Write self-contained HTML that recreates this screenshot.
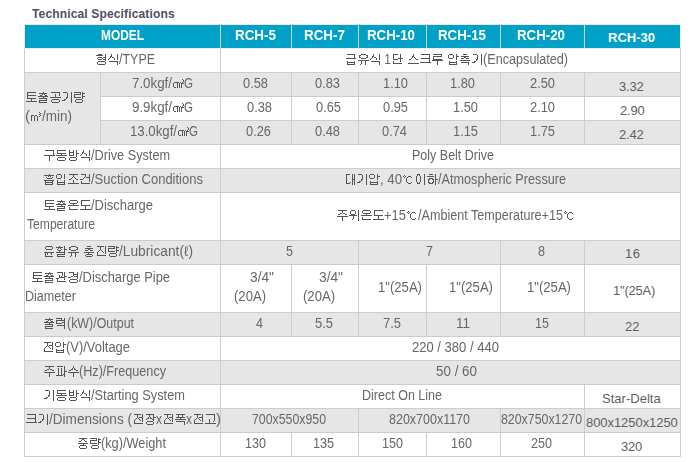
<!DOCTYPE html>
<html lang="en"><head><meta charset="utf-8"><title>Technical Specifications</title>
<style>
html,body{margin:0;padding:0;background:#fff}
body{width:690px;height:462px;overflow:hidden;position:relative;font-family:"Liberation Sans",sans-serif;font-size:14px;color:#555}
h1{position:absolute;left:32px;top:7px;letter-spacing:.15px;margin:0;font-size:12px;line-height:14px;font-weight:bold;color:#534e60;white-space:nowrap}
table{position:absolute;left:24px;top:24px;width:657px;table-layout:fixed;border-collapse:separate;border-spacing:0;border-bottom:1px solid #ccc}
td,th{box-sizing:border-box;border-left:1px solid #ccc;border-top:1px solid #ccc;padding:0;vertical-align:top;text-align:left;white-space:nowrap;line-height:15px;font-weight:normal;overflow:visible}
tr.hd th{background:#00a1c6;color:#fff;font-weight:bold;border-top-color:#f3e6e2;border-left-color:#ccd0d1}
tr.hd th:first-child{border-left-color:#f3e6e2}
td:last-child,th:last-child{border-right:1px solid #ccc}
tr.hd th:last-child{border-right-color:#f3e6e2}
tr.hd+tr td{border-top-color:#f4ecea}
tr.g td,td.g{background:#e6e6e6}
tr.w td{background:#fff}
.x{font-size:13px}
td.x{color:#5f5f5f}
tr.hd th.x{font-size:13px}
svg.k{display:inline-block;vertical-align:-2px;fill:currentColor;shape-rendering:crispEdges;overflow:visible}
.l{display:inline-block;color:#676767;filter:grayscale(1);transform-origin:0 50%;text-indent:0;white-space:pre}
tr.hd .l{color:#fff}
</style></head>
<body>
<svg width="0" height="0" style="position:absolute" aria-hidden="true"><defs><symbol id="u2103" viewBox="0 0 12 12"><path d="M2 1h1v1h-1zM1 2h1v1h-1zM3 2h1v1h-1zM6 2h3v1h-3zM2 3h1v1h-1zM5 3h1v1h-1zM9 3h1v1h-1zM4 4h1v1h-1zM4 5h1v1h-1zM4 6h1v1h-1zM4 7h1v1h-1zM5 8h1v1h-1zM9 8h1v1h-1zM6 9h3v1h-3z"/></symbol><symbol id="u33a0" viewBox="0 0 12 12"><path d="M10 1h1v1h-1zM11 2h1v1h-1zM11 3h1v1h-1zM2 4h5v1h-5zM8 4h1v1h-1zM10 4h1v1h-1zM1 5h1v1h-1zM5 5h1v1h-1zM7 5h1v1h-1zM9 5h3v1h-3zM1 6h1v1h-1zM5 6h1v1h-1zM7 6h1v1h-1zM9 6h1v1h-1zM1 7h1v1h-1zM5 7h1v1h-1zM7 7h1v1h-1zM9 7h1v1h-1zM1 8h1v1h-1zM5 8h1v1h-1zM7 8h1v1h-1zM9 8h1v1h-1zM2 9h2v1h-2zM5 9h1v1h-1zM7 9h1v1h-1zM9 9h1v1h-1z"/></symbol><symbol id="u33a5" viewBox="0 0 12 12"><path d="M9 1h1v1h-1zM10 2h1v1h-1zM9 3h1v1h-1zM1 4h3v1h-3zM5 4h2v1h-2zM10 4h1v1h-1zM1 5h1v1h-1zM4 5h1v1h-1zM7 5h1v1h-1zM9 5h1v1h-1zM1 6h1v1h-1zM4 6h1v1h-1zM7 6h1v1h-1zM1 7h1v1h-1zM4 7h1v1h-1zM7 7h1v1h-1zM1 8h1v1h-1zM4 8h1v1h-1zM7 8h1v1h-1zM1 9h1v1h-1zM4 9h1v1h-1zM7 9h1v1h-1z"/></symbol><symbol id="uac74" viewBox="0 0 12 12"><path d="M2 0h5v1h-5zM10 0h1v1h-1zM6 1h1v1h-1zM10 1h1v1h-1zM6 2h1v1h-1zM10 2h1v1h-1zM5 3h1v1h-1zM7 3h4v1h-4zM4 4h1v1h-1zM10 4h1v1h-1zM1 5h3v1h-3zM10 5h1v1h-1zM10 6h1v1h-1zM2 7h1v1h-1zM10 7h1v1h-1zM2 8h1v1h-1zM2 9h9v1h-9z"/></symbol><symbol id="uacbd" viewBox="0 0 12 12"><path d="M2 0h5v1h-5zM10 0h1v1h-1zM6 1h1v1h-1zM10 1h1v1h-1zM6 2h5v1h-5zM6 3h1v1h-1zM10 3h1v1h-1zM4 4h2v1h-2zM7 4h4v1h-4zM1 5h3v1h-3zM10 5h1v1h-1zM10 6h1v1h-1zM3 7h7v1h-7zM2 8h1v1h-1zM10 8h1v1h-1zM2 9h1v1h-1zM10 9h1v1h-1zM3 10h7v1h-7z"/></symbol><symbol id="uace0" viewBox="0 0 12 12"><path d="M2 0h9v1h-9zM10 1h1v1h-1zM10 2h1v1h-1zM10 3h1v1h-1zM10 4h1v1h-1zM5 5h1v1h-1zM10 5h1v1h-1zM5 6h1v1h-1zM10 6h1v1h-1zM5 7h1v1h-1zM9 7h1v1h-1zM5 8h1v1h-1zM1 9h11v1h-11z"/></symbol><symbol id="uacf5" viewBox="0 0 12 12"><path d="M2 0h9v1h-9zM10 1h1v1h-1zM6 2h1v1h-1zM10 2h1v1h-1zM6 3h1v1h-1zM10 3h1v1h-1zM6 4h1v1h-1zM1 5h11v1h-11zM3 7h7v1h-7zM2 8h1v1h-1zM10 8h1v1h-1zM2 9h1v1h-1zM10 9h1v1h-1zM3 10h7v1h-7z"/></symbol><symbol id="uad00" viewBox="0 0 12 12"><path d="M2 0h6v1h-6zM9 0h1v1h-1zM7 1h1v1h-1zM9 1h1v1h-1zM7 2h1v1h-1zM9 2h1v1h-1zM4 3h1v1h-1zM7 3h1v1h-1zM9 3h1v1h-1zM4 4h1v1h-1zM6 4h1v1h-1zM9 4h3v1h-3zM4 5h6v1h-6zM1 6h3v1h-3zM9 6h1v1h-1zM2 7h1v1h-1zM9 7h1v1h-1zM2 8h1v1h-1zM2 9h9v1h-9z"/></symbol><symbol id="uad6c" viewBox="0 0 12 12"><path d="M2 0h9v1h-9zM10 1h1v1h-1zM10 2h1v1h-1zM10 3h1v1h-1zM10 4h1v1h-1zM1 5h11v1h-11zM6 6h1v1h-1zM6 7h1v1h-1zM6 8h1v1h-1zM6 9h1v1h-1zM6 10h1v1h-1z"/></symbol><symbol id="uae09" viewBox="0 0 12 12"><path d="M2 0h8v1h-8zM9 1h1v1h-1zM9 2h1v1h-1zM9 3h1v1h-1zM1 4h10v1h-10zM2 7h1v1h-1zM9 7h1v1h-1zM2 8h8v1h-8zM2 9h1v1h-1zM9 9h1v1h-1zM2 10h8v1h-8z"/></symbol><symbol id="uae30" viewBox="0 0 12 12"><path d="M2 0h4v1h-4zM10 0h1v1h-1zM6 1h1v1h-1zM10 1h1v1h-1zM6 2h1v1h-1zM10 2h1v1h-1zM6 3h1v1h-1zM10 3h1v1h-1zM6 4h1v1h-1zM10 4h1v1h-1zM5 5h2v1h-2zM10 5h1v1h-1zM5 6h1v1h-1zM10 6h1v1h-1zM3 7h2v1h-2zM10 7h1v1h-1zM1 8h3v1h-3zM10 8h1v1h-1zM10 9h1v1h-1zM10 10h1v1h-1z"/></symbol><symbol id="ub2e8" viewBox="0 0 12 12"><path d="M2 0h5v1h-5zM9 0h1v1h-1zM2 1h1v1h-1zM9 1h1v1h-1zM2 2h1v1h-1zM9 2h1v1h-1zM2 3h1v1h-1zM9 3h1v1h-1zM2 4h1v1h-1zM7 4h5v1h-5zM2 5h5v1h-5zM9 5h1v1h-1zM9 6h1v1h-1zM2 7h1v1h-1zM9 7h1v1h-1zM2 8h1v1h-1zM2 9h9v1h-9z"/></symbol><symbol id="ub300" viewBox="0 0 12 12"><path d="M2 0h4v1h-4zM8 0h1v1h-1zM10 0h1v1h-1zM2 1h1v1h-1zM8 1h1v1h-1zM10 1h1v1h-1zM2 2h1v1h-1zM8 2h1v1h-1zM10 2h1v1h-1zM2 3h1v1h-1zM8 3h1v1h-1zM10 3h1v1h-1zM2 4h1v1h-1zM8 4h1v1h-1zM10 4h1v1h-1zM2 5h1v1h-1zM8 5h3v1h-3zM2 6h1v1h-1zM8 6h1v1h-1zM10 6h1v1h-1zM2 7h1v1h-1zM8 7h1v1h-1zM10 7h1v1h-1zM2 8h1v1h-1zM6 8h1v1h-1zM8 8h1v1h-1zM10 8h1v1h-1zM2 9h4v1h-4zM8 9h1v1h-1zM10 9h1v1h-1zM8 10h1v1h-1zM10 10h1v1h-1z"/></symbol><symbol id="ub3c4" viewBox="0 0 12 12"><path d="M2 0h9v1h-9zM2 1h1v1h-1zM2 2h1v1h-1zM2 3h1v1h-1zM2 4h1v1h-1zM2 5h9v1h-9zM6 6h1v1h-1zM6 7h1v1h-1zM6 8h1v1h-1zM1 9h11v1h-11z"/></symbol><symbol id="ub3d9" viewBox="0 0 12 12"><path d="M2 0h9v1h-9zM2 1h1v1h-1zM2 2h1v1h-1zM2 3h9v1h-9zM6 4h1v1h-1zM1 5h11v1h-11zM3 7h7v1h-7zM2 8h1v1h-1zM10 8h1v1h-1zM2 9h1v1h-1zM10 9h1v1h-1zM3 10h7v1h-7z"/></symbol><symbol id="ub7c9" viewBox="0 0 12 12"><path d="M1 0h7v1h-7zM9 0h1v1h-1zM7 1h1v1h-1zM9 1h3v1h-3zM1 2h7v1h-7zM9 2h1v1h-1zM1 3h1v1h-1zM9 3h1v1h-1zM1 4h1v1h-1zM9 4h3v1h-3zM1 5h7v1h-7zM9 5h1v1h-1zM9 6h1v1h-1zM3 7h6v1h-6zM2 8h1v1h-1zM9 8h1v1h-1zM2 9h1v1h-1zM9 9h1v1h-1zM3 10h6v1h-6z"/></symbol><symbol id="ub825" viewBox="0 0 12 12"><path d="M1 0h6v1h-6zM9 0h1v1h-1zM6 1h1v1h-1zM9 1h1v1h-1zM1 2h9v1h-9zM1 3h1v1h-1zM9 3h1v1h-1zM1 4h1v1h-1zM7 4h3v1h-3zM1 5h6v1h-6zM9 5h1v1h-1zM9 6h1v1h-1zM2 7h8v1h-8zM9 8h1v1h-1zM9 9h1v1h-1zM9 10h1v1h-1z"/></symbol><symbol id="ub8e8" viewBox="0 0 12 12"><path d="M2 0h9v1h-9zM10 1h1v1h-1zM2 2h9v1h-9zM2 3h1v1h-1zM2 4h1v1h-1zM2 5h9v1h-9zM1 6h11v1h-11zM6 7h1v1h-1zM6 8h1v1h-1zM6 9h1v1h-1zM6 10h1v1h-1z"/></symbol><symbol id="ubc29" viewBox="0 0 12 12"><path d="M2 0h1v1h-1zM6 0h1v1h-1zM9 0h1v1h-1zM2 1h1v1h-1zM6 1h1v1h-1zM9 1h1v1h-1zM2 2h5v1h-5zM9 2h1v1h-1zM2 3h1v1h-1zM6 3h1v1h-1zM9 3h3v1h-3zM2 4h1v1h-1zM6 4h1v1h-1zM9 4h1v1h-1zM2 5h5v1h-5zM9 5h1v1h-1zM9 6h1v1h-1zM3 7h6v1h-6zM2 8h1v1h-1zM9 8h1v1h-1zM2 9h1v1h-1zM9 9h1v1h-1zM3 10h6v1h-6z"/></symbol><symbol id="uc218" viewBox="0 0 12 12"><path d="M6 0h1v1h-1zM6 1h1v1h-1zM5 2h1v1h-1zM7 2h1v1h-1zM4 3h2v1h-2zM7 3h2v1h-2zM2 4h2v1h-2zM9 4h2v1h-2zM1 6h11v1h-11zM6 7h1v1h-1zM6 8h1v1h-1zM6 9h1v1h-1zM6 10h1v1h-1z"/></symbol><symbol id="uc2a4" viewBox="0 0 12 12"><path d="M6 0h1v1h-1zM6 1h1v1h-1zM5 2h2v1h-2zM5 3h1v1h-1zM7 3h1v1h-1zM4 4h1v1h-1zM8 4h1v1h-1zM2 5h2v1h-2zM9 5h2v1h-2zM1 9h11v1h-11z"/></symbol><symbol id="uc2dd" viewBox="0 0 12 12"><path d="M4 0h1v1h-1zM10 0h1v1h-1zM4 1h1v1h-1zM10 1h1v1h-1zM3 2h2v1h-2zM10 2h1v1h-1zM3 3h1v1h-1zM5 3h2v1h-2zM10 3h1v1h-1zM2 4h1v1h-1zM7 4h1v1h-1zM10 4h1v1h-1zM1 5h1v1h-1zM7 5h1v1h-1zM10 5h1v1h-1zM2 7h9v1h-9zM10 8h1v1h-1zM10 9h1v1h-1zM10 10h1v1h-1z"/></symbol><symbol id="uc555" viewBox="0 0 12 12"><path d="M2 0h4v1h-4zM9 0h1v1h-1zM1 1h1v1h-1zM6 1h1v1h-1zM9 1h1v1h-1zM1 2h1v1h-1zM6 2h1v1h-1zM9 2h3v1h-3zM1 3h1v1h-1zM6 3h1v1h-1zM9 3h1v1h-1zM2 4h4v1h-4zM9 4h1v1h-1zM9 5h1v1h-1zM2 7h1v1h-1zM9 7h1v1h-1zM2 8h8v1h-8zM2 9h1v1h-1zM9 9h1v1h-1zM2 10h8v1h-8z"/></symbol><symbol id="uc628" viewBox="0 0 12 12"><path d="M3 0h7v1h-7zM2 1h1v1h-1zM10 1h1v1h-1zM2 2h1v1h-1zM10 2h1v1h-1zM3 3h7v1h-7zM6 4h1v1h-1zM1 5h11v1h-11zM2 7h1v1h-1zM2 8h1v1h-1zM2 9h9v1h-9z"/></symbol><symbol id="uc704" viewBox="0 0 12 12"><path d="M3 0h4v1h-4zM10 0h1v1h-1zM2 1h1v1h-1zM7 1h1v1h-1zM10 1h1v1h-1zM2 2h1v1h-1zM7 2h1v1h-1zM10 2h1v1h-1zM2 3h1v1h-1zM7 3h1v1h-1zM10 3h1v1h-1zM3 4h4v1h-4zM10 4h1v1h-1zM1 5h8v1h-8zM10 5h1v1h-1zM5 6h1v1h-1zM10 6h1v1h-1zM5 7h1v1h-1zM10 7h1v1h-1zM5 8h1v1h-1zM10 8h1v1h-1zM4 9h1v1h-1zM10 9h1v1h-1zM10 10h1v1h-1z"/></symbol><symbol id="uc720" viewBox="0 0 12 12"><path d="M4 0h5v1h-5zM2 1h2v1h-2zM9 1h2v1h-2zM2 2h1v1h-1zM10 2h1v1h-1zM2 3h2v1h-2zM9 3h2v1h-2zM4 4h5v1h-5zM1 6h11v1h-11zM4 7h1v1h-1zM8 7h1v1h-1zM4 8h1v1h-1zM8 8h1v1h-1zM4 9h1v1h-1zM8 9h1v1h-1zM3 10h1v1h-1zM8 10h1v1h-1z"/></symbol><symbol id="uc724" viewBox="0 0 12 12"><path d="M3 0h6v1h-6zM2 1h1v1h-1zM9 1h1v1h-1zM2 2h1v1h-1zM9 2h1v1h-1zM3 3h6v1h-6zM1 6h10v1h-10zM2 7h1v1h-1zM4 7h1v1h-1zM8 7h1v1h-1zM2 8h1v1h-1zM4 8h1v1h-1zM8 8h1v1h-1zM2 9h1v1h-1zM2 10h8v1h-8z"/></symbol><symbol id="uc774" viewBox="0 0 12 12"><path d="M3 0h3v1h-3zM10 0h1v1h-1zM3 1h1v1h-1zM5 1h1v1h-1zM10 1h1v1h-1zM2 2h1v1h-1zM6 2h1v1h-1zM10 2h1v1h-1zM2 3h1v1h-1zM6 3h1v1h-1zM10 3h1v1h-1zM2 4h1v1h-1zM6 4h1v1h-1zM10 4h1v1h-1zM2 5h1v1h-1zM6 5h1v1h-1zM10 5h1v1h-1zM2 6h1v1h-1zM6 6h1v1h-1zM10 6h1v1h-1zM2 7h1v1h-1zM6 7h1v1h-1zM10 7h1v1h-1zM3 8h1v1h-1zM5 8h1v1h-1zM10 8h1v1h-1zM3 9h3v1h-3zM10 9h1v1h-1zM10 10h1v1h-1z"/></symbol><symbol id="uc785" viewBox="0 0 12 12"><path d="M2 0h4v1h-4zM9 0h1v1h-1zM1 1h1v1h-1zM6 1h1v1h-1zM9 1h1v1h-1zM1 2h1v1h-1zM6 2h1v1h-1zM9 2h1v1h-1zM1 3h1v1h-1zM6 3h1v1h-1zM9 3h1v1h-1zM2 4h4v1h-4zM9 4h1v1h-1zM2 6h1v1h-1zM9 6h1v1h-1zM2 7h1v1h-1zM9 7h1v1h-1zM2 8h8v1h-8zM2 9h1v1h-1zM9 9h1v1h-1zM2 10h8v1h-8z"/></symbol><symbol id="uc7a5" viewBox="0 0 12 12"><path d="M2 0h8v1h-8zM5 1h1v1h-1zM9 1h1v1h-1zM5 2h1v1h-1zM9 2h1v1h-1zM4 3h1v1h-1zM6 3h1v1h-1zM9 3h3v1h-3zM3 4h2v1h-2zM6 4h2v1h-2zM9 4h1v1h-1zM2 5h1v1h-1zM8 5h2v1h-2zM9 6h1v1h-1zM3 7h6v1h-6zM2 8h1v1h-1zM9 8h1v1h-1zM2 9h1v1h-1zM9 9h1v1h-1zM3 10h6v1h-6z"/></symbol><symbol id="uc804" viewBox="0 0 12 12"><path d="M2 0h7v1h-7zM10 0h1v1h-1zM5 1h1v1h-1zM10 1h1v1h-1zM5 2h1v1h-1zM10 2h1v1h-1zM5 3h1v1h-1zM7 3h4v1h-4zM4 4h1v1h-1zM6 4h1v1h-1zM10 4h1v1h-1zM3 5h1v1h-1zM7 5h1v1h-1zM10 5h1v1h-1zM2 6h1v1h-1zM8 6h1v1h-1zM10 6h1v1h-1zM2 7h1v1h-1zM10 7h1v1h-1zM2 8h1v1h-1zM2 9h9v1h-9z"/></symbol><symbol id="uc870" viewBox="0 0 12 12"><path d="M2 0h9v1h-9zM6 1h1v1h-1zM6 2h1v1h-1zM5 3h1v1h-1zM7 3h1v1h-1zM4 4h1v1h-1zM8 4h1v1h-1zM2 5h2v1h-2zM9 5h2v1h-2zM6 6h1v1h-1zM6 7h1v1h-1zM6 8h1v1h-1zM1 9h11v1h-11z"/></symbol><symbol id="uc8fc" viewBox="0 0 12 12"><path d="M2 0h9v1h-9zM6 1h1v1h-1zM6 2h1v1h-1zM4 3h2v1h-2zM7 3h2v1h-2zM2 4h2v1h-2zM9 4h2v1h-2zM1 6h11v1h-11zM6 7h1v1h-1zM6 8h1v1h-1zM6 9h1v1h-1zM6 10h1v1h-1z"/></symbol><symbol id="uc911" viewBox="0 0 12 12"><path d="M2 0h8v1h-8zM5 1h2v1h-2zM4 2h1v1h-1zM7 2h1v1h-1zM2 3h2v1h-2zM8 3h2v1h-2zM1 5h10v1h-10zM6 6h1v1h-1zM3 7h6v1h-6zM2 8h1v1h-1zM9 8h1v1h-1zM2 9h1v1h-1zM9 9h1v1h-1zM3 10h6v1h-6z"/></symbol><symbol id="uc9c4" viewBox="0 0 12 12"><path d="M2 0h7v1h-7zM10 0h1v1h-1zM5 1h1v1h-1zM10 1h1v1h-1zM5 2h1v1h-1zM10 2h1v1h-1zM5 3h1v1h-1zM10 3h1v1h-1zM4 4h1v1h-1zM6 4h1v1h-1zM10 4h1v1h-1zM3 5h1v1h-1zM7 5h1v1h-1zM10 5h1v1h-1zM2 6h1v1h-1zM8 6h1v1h-1zM10 6h1v1h-1zM2 7h1v1h-1zM10 7h1v1h-1zM2 8h1v1h-1zM2 9h9v1h-9z"/></symbol><symbol id="ucd95" viewBox="0 0 12 12"><path d="M4 0h4v1h-4zM2 2h8v1h-8zM5 3h2v1h-2zM2 4h3v1h-3zM7 4h3v1h-3zM1 6h10v1h-10zM2 8h8v1h-8zM9 9h1v1h-1zM9 10h1v1h-1z"/></symbol><symbol id="ucd9c" viewBox="0 0 12 12"><path d="M6 0h1v1h-1zM2 1h8v1h-8zM5 2h1v1h-1zM7 2h1v1h-1zM3 3h2v1h-2zM8 3h2v1h-2zM1 4h10v1h-10zM6 5h1v1h-1zM2 6h8v1h-8zM9 7h1v1h-1zM2 8h8v1h-8zM2 9h1v1h-1zM2 10h8v1h-8z"/></symbol><symbol id="ucda9" viewBox="0 0 12 12"><path d="M4 0h4v1h-4zM2 2h8v1h-8zM5 3h2v1h-2zM2 4h3v1h-3zM7 4h3v1h-3zM1 6h10v1h-10zM5 7h1v1h-1zM3 8h6v1h-6zM2 9h1v1h-1zM9 9h1v1h-1zM3 10h6v1h-6z"/></symbol><symbol id="ud06c" viewBox="0 0 12 12"><path d="M2 0h9v1h-9zM10 1h1v1h-1zM10 2h1v1h-1zM10 3h1v1h-1zM2 4h9v1h-9zM10 5h1v1h-1zM10 6h1v1h-1zM10 7h1v1h-1zM1 8h11v1h-11z"/></symbol><symbol id="ud1a0" viewBox="0 0 12 12"><path d="M2 0h9v1h-9zM2 1h1v1h-1zM2 2h1v1h-1zM2 3h9v1h-9zM2 4h1v1h-1zM2 5h1v1h-1zM2 6h9v1h-9zM6 7h1v1h-1zM6 8h1v1h-1zM1 9h11v1h-11z"/></symbol><symbol id="ud30c" viewBox="0 0 12 12"><path d="M2 0h6v1h-6zM9 0h1v1h-1zM9 1h1v1h-1zM3 2h1v1h-1zM6 2h1v1h-1zM9 2h1v1h-1zM3 3h1v1h-1zM6 3h1v1h-1zM9 3h1v1h-1zM3 4h1v1h-1zM6 4h1v1h-1zM9 4h1v1h-1zM3 5h1v1h-1zM6 5h1v1h-1zM9 5h3v1h-3zM3 6h1v1h-1zM6 6h1v1h-1zM9 6h1v1h-1zM3 7h1v1h-1zM6 7h1v1h-1zM9 7h1v1h-1zM3 8h1v1h-1zM6 8h1v1h-1zM8 8h2v1h-2zM1 9h7v1h-7zM9 9h1v1h-1zM9 10h1v1h-1z"/></symbol><symbol id="ud3ed" viewBox="0 0 12 12"><path d="M2 0h9v1h-9zM4 1h1v1h-1zM8 1h1v1h-1zM4 2h1v1h-1zM8 2h1v1h-1zM2 3h9v1h-9zM6 4h1v1h-1zM1 5h11v1h-11zM2 7h9v1h-9zM10 8h1v1h-1zM10 9h1v1h-1zM10 10h1v1h-1z"/></symbol><symbol id="ud558" viewBox="0 0 12 12"><path d="M3 0h4v1h-4zM9 0h1v1h-1zM9 1h1v1h-1zM1 2h7v1h-7zM9 2h1v1h-1zM9 3h1v1h-1zM3 4h4v1h-4zM9 4h1v1h-1zM2 5h2v1h-2zM6 5h2v1h-2zM9 5h3v1h-3zM2 6h1v1h-1zM7 6h1v1h-1zM9 6h1v1h-1zM2 7h1v1h-1zM7 7h1v1h-1zM9 7h1v1h-1zM2 8h2v1h-2zM6 8h2v1h-2zM9 8h1v1h-1zM3 9h4v1h-4zM9 9h1v1h-1zM9 10h1v1h-1z"/></symbol><symbol id="ud615" viewBox="0 0 12 12"><path d="M3 0h4v1h-4zM10 0h1v1h-1zM1 1h7v1h-7zM10 1h1v1h-1zM10 2h1v1h-1zM3 3h4v1h-4zM8 3h3v1h-3zM2 4h1v1h-1zM7 4h1v1h-1zM10 4h1v1h-1zM3 5h4v1h-4zM8 5h3v1h-3zM10 6h1v1h-1zM3 7h7v1h-7zM2 8h1v1h-1zM10 8h1v1h-1zM2 9h1v1h-1zM10 9h1v1h-1zM3 10h7v1h-7z"/></symbol><symbol id="ud65c" viewBox="0 0 12 12"><path d="M4 0h1v1h-1zM9 0h1v1h-1zM1 1h7v1h-7zM9 1h1v1h-1zM3 2h1v1h-1zM5 2h1v1h-1zM9 2h1v1h-1zM2 3h1v1h-1zM6 3h1v1h-1zM9 3h3v1h-3zM3 4h3v1h-3zM9 4h1v1h-1zM4 5h1v1h-1zM9 5h1v1h-1zM1 6h9v1h-9zM9 7h1v1h-1zM2 8h8v1h-8zM2 9h1v1h-1zM2 10h8v1h-8z"/></symbol><symbol id="ud761" viewBox="0 0 12 12"><path d="M6 0h1v1h-1zM1 1h10v1h-10zM5 2h1v1h-1zM7 2h1v1h-1zM3 3h1v1h-1zM9 3h1v1h-1zM4 4h5v1h-5zM1 6h10v1h-10zM2 7h1v1h-1zM9 7h1v1h-1zM2 8h8v1h-8zM2 9h1v1h-1zM9 9h1v1h-1zM2 10h8v1h-8z"/></symbol></defs></svg>
<h1>Technical Specifications</h1>
<table>
<colgroup><col style="width:76px"><col style="width:120px"><col style="width:71px"><col style="width:67px"><col style="width:68px"><col style="width:74px"><col style="width:84px"><col style="width:97px"></colgroup>
<tr class="hd" style="height:24px"><th colspan="2" style="padding-left:76px;padding-top:3px"><span class="l" style="width:43px;transform:scaleX(0.850)">MODEL</span></th><th style="padding-left:14px;padding-top:3px"><span class="l" style="width:41px;transform:scaleX(0.958)">RCH-5</span></th><th style="padding-left:12px;padding-top:3px"><span class="l" style="width:41px;transform:scaleX(0.958)">RCH-7</span></th><th style="padding-left:8px;padding-top:3px"><span class="l" style="width:48px;transform:scaleX(0.949)">RCH-10</span></th><th style="padding-left:11px;padding-top:3px"><span class="l" style="width:48px;transform:scaleX(0.949)">RCH-15</span></th><th style="padding-left:16px;padding-top:3px"><span class="l" style="width:48px;transform:scaleX(0.949)">RCH-20</span></th><th class="x" style="padding-left:23px;padding-top:5px"><span>RCH-30</span></th></tr>
<tr class="w" style="height:24px"><td colspan="2" style="padding-left:70px;padding-top:3px"><svg class="k" width="24" height="12" viewBox="0 0 24 12" role="img"><title>형식</title><use href="#ud615" x="0" width="12" height="12"/><use href="#uc2dd" x="12" width="12" height="12"/></svg><span class="l" style="width:36px;transform:scaleX(0.890)">/TYPE</span></td><td colspan="6" style="padding-left:124px;padding-top:3px"><svg class="k" width="36" height="12" viewBox="0 0 36 12" role="img"><title>급유식</title><use href="#uae09" x="0" width="12" height="12"/><use href="#uc720" x="12" width="12" height="12"/><use href="#uc2dd" x="24" width="12" height="12"/></svg><span class="l" style="width:10px;transform:scaleX(0.856)"> 1</span><svg class="k" width="12" height="12" viewBox="0 0 12 12" role="img"><title>단</title><use href="#ub2e8" x="0" width="12" height="12"/></svg><span class="l" style="width:4px;transform:scaleX(1.028)">&nbsp;</span><svg class="k" width="36" height="12" viewBox="0 0 36 12" role="img"><title>스크루</title><use href="#uc2a4" x="0" width="12" height="12"/><use href="#ud06c" x="12" width="12" height="12"/><use href="#ub8e8" x="24" width="12" height="12"/></svg><span class="l" style="width:4px;transform:scaleX(1.028)">&nbsp;</span><svg class="k" width="36" height="12" viewBox="0 0 36 12" role="img"><title>압축기</title><use href="#uc555" x="0" width="12" height="12"/><use href="#ucd95" x="12" width="12" height="12"/><use href="#uae30" x="24" width="12" height="12"/></svg><span class="l" style="width:85px;transform:scaleX(0.903)">(Encapsulated)</span></td></tr>
<tr class="g" style="height:24px"><td rowspan="3" class="g" style="padding-left:0px;padding-top:15px;line-height:19px"><svg class="k" width="60" height="12" viewBox="0 0 60 12" role="img"><title>토출공기량</title><use href="#ud1a0" x="0" width="12" height="12"/><use href="#ucd9c" x="12" width="12" height="12"/><use href="#uacf5" x="24" width="12" height="12"/><use href="#uae30" x="36" width="12" height="12"/><use href="#ub7c9" x="48" width="12" height="12"/></svg><br><span class="l" style="width:5px;transform:scaleX(1.070)">(</span><svg class="k" width="12" height="12" viewBox="0 0 12 12" role="img"><title>㎥</title><use href="#u33a5" x="0" width="12" height="12"/></svg><span class="l" style="width:30px;transform:scaleX(0.964)">/min)</span></td><td style="padding-left:31px;padding-top:3px"><span class="l" style="width:40px;transform:scaleX(0.952)">7.0kgf/</span><svg class="k" width="12" height="12" viewBox="0 0 12 12" role="img"><title>㎠</title><use href="#u33a0" x="0" width="12" height="12"/></svg><span class="l" style="width:9px;transform:scaleX(0.826)">G</span></td><td style="padding-left:22px;padding-top:3px"><span class="l" style="width:25px;transform:scaleX(0.917)">0.58</span></td><td style="padding-left:23px;padding-top:3px"><span class="l" style="width:25px;transform:scaleX(0.917)">0.83</span></td><td style="padding-left:24px;padding-top:3px"><span class="l" style="width:25px;transform:scaleX(0.917)">1.10</span></td><td style="padding-left:23px;padding-top:3px"><span class="l" style="width:25px;transform:scaleX(0.917)">1.80</span></td><td style="padding-left:29px;padding-top:3px"><span class="l" style="width:25px;transform:scaleX(0.917)">2.50</span></td><td class="x" style="padding-left:34px;padding-top:6px"><span style="letter-spacing:-0.15px">3.32</span></td></tr>
<tr class="w" style="height:24px"><td style="padding-left:31px;padding-top:3px"><span class="l" style="width:40px;transform:scaleX(0.952)">9.9kgf/</span><svg class="k" width="12" height="12" viewBox="0 0 12 12" role="img"><title>㎠</title><use href="#u33a0" x="0" width="12" height="12"/></svg><span class="l" style="width:9px;transform:scaleX(0.826)">G</span></td><td style="padding-left:26px;padding-top:3px"><span class="l" style="width:25px;transform:scaleX(0.917)">0.38</span></td><td style="padding-left:24px;padding-top:3px"><span class="l" style="width:25px;transform:scaleX(0.917)">0.65</span></td><td style="padding-left:24px;padding-top:3px"><span class="l" style="width:25px;transform:scaleX(0.917)">0.95</span></td><td style="padding-left:26px;padding-top:3px"><span class="l" style="width:25px;transform:scaleX(0.917)">1.50</span></td><td style="padding-left:29px;padding-top:3px"><span class="l" style="width:25px;transform:scaleX(0.917)">2.10</span></td><td class="x" style="padding-left:35px;padding-top:6px"><span style="letter-spacing:-0.15px">2.90</span></td></tr>
<tr class="g" style="height:24px"><td style="padding-left:29px;padding-top:3px"><span class="l" style="width:47px;transform:scaleX(0.943)">13.0kgf/</span><svg class="k" width="12" height="12" viewBox="0 0 12 12" role="img"><title>㎠</title><use href="#u33a0" x="0" width="12" height="12"/></svg><span class="l" style="width:9px;transform:scaleX(0.826)">G</span></td><td style="padding-left:25px;padding-top:3px"><span class="l" style="width:25px;transform:scaleX(0.917)">0.26</span></td><td style="padding-left:23px;padding-top:3px"><span class="l" style="width:25px;transform:scaleX(0.917)">0.48</span></td><td style="padding-left:23px;padding-top:3px"><span class="l" style="width:25px;transform:scaleX(0.917)">0.74</span></td><td style="padding-left:26px;padding-top:3px"><span class="l" style="width:25px;transform:scaleX(0.917)">1.15</span></td><td style="padding-left:29px;padding-top:3px"><span class="l" style="width:25px;transform:scaleX(0.917)">1.75</span></td><td class="x" style="padding-left:34px;padding-top:6px"><span style="letter-spacing:-0.15px">2.42</span></td></tr>
<tr class="w" style="height:24px"><td colspan="2" style="padding-left:18px;padding-top:3px"><svg class="k" width="48" height="12" viewBox="0 0 48 12" role="img"><title>구동방식</title><use href="#uad6c" x="0" width="12" height="12"/><use href="#ub3d9" x="12" width="12" height="12"/><use href="#ubc29" x="24" width="12" height="12"/><use href="#uc2dd" x="36" width="12" height="12"/></svg><span class="l" style="width:79px;transform:scaleX(0.907)">/Drive System</span></td><td colspan="6" style="padding-left:191px;padding-top:3px"><span class="l" style="width:82px;transform:scaleX(0.893)">Poly Belt Drive</span></td></tr>
<tr class="g" style="height:24px"><td colspan="2" style="padding-left:18px;padding-top:3px"><svg class="k" width="48" height="12" viewBox="0 0 48 12" role="img"><title>흡입조건</title><use href="#ud761" x="0" width="12" height="12"/><use href="#uc785" x="12" width="12" height="12"/><use href="#uc870" x="24" width="12" height="12"/><use href="#uac74" x="36" width="12" height="12"/></svg><span class="l" style="width:112px;transform:scaleX(0.928)">/Suction Conditions</span></td><td colspan="6" style="padding-left:123px;padding-top:3px"><svg class="k" width="36" height="12" viewBox="0 0 36 12" role="img"><title>대기압</title><use href="#ub300" x="0" width="12" height="12"/><use href="#uae30" x="12" width="12" height="12"/><use href="#uc555" x="24" width="12" height="12"/></svg><span class="l" style="width:22px;transform:scaleX(0.942)">, 40</span><svg class="k" width="36" height="12" viewBox="0 0 36 12" role="img"><title>℃이하</title><use href="#u2103" x="0" width="12" height="12"/><use href="#uc774" x="12" width="12" height="12"/><use href="#ud558" x="24" width="12" height="12"/></svg><span class="l" style="width:128px;transform:scaleX(0.904)">/Atmospheric Pressure</span></td></tr>
<tr class="w" style="height:48px"><td colspan="2" style="padding-left:2px;text-indent:16px;padding-top:3px;line-height:19px"><svg class="k" width="48" height="12" viewBox="0 0 48 12" role="img"><title>토출온도</title><use href="#ud1a0" x="0" width="12" height="12"/><use href="#ucd9c" x="12" width="12" height="12"/><use href="#uc628" x="24" width="12" height="12"/><use href="#ub3c4" x="36" width="12" height="12"/></svg><span class="l" style="width:62px;transform:scaleX(0.926)">/Discharge</span><br><span class="l" style="width:68px;transform:scaleX(0.865)">Temperature</span></td><td colspan="6" style="padding-left:115px;padding-top:15px"><svg class="k" width="48" height="12" viewBox="0 0 48 12" role="img"><title>주위온도</title><use href="#uc8fc" x="0" width="12" height="12"/><use href="#uc704" x="12" width="12" height="12"/><use href="#uc628" x="24" width="12" height="12"/><use href="#ub3c4" x="36" width="12" height="12"/></svg><span class="l" style="width:22px;transform:scaleX(0.926)">+15</span><svg class="k" width="12" height="12" viewBox="0 0 12 12" role="img"><title>℃</title><use href="#u2103" x="0" width="12" height="12"/></svg><span class="l" style="width:145px;transform:scaleX(0.899)">/Ambient Temperature+15</span><svg class="k" width="12" height="12" viewBox="0 0 12 12" role="img"><title>℃</title><use href="#u2103" x="0" width="12" height="12"/></svg></td></tr>
<tr class="g" style="height:24px"><td colspan="2" style="padding-left:18px;padding-top:3px"><svg class="k" width="36" height="12" viewBox="0 0 36 12" role="img"><title>윤활유</title><use href="#uc724" x="0" width="12" height="12"/><use href="#ud65c" x="12" width="12" height="12"/><use href="#uc720" x="24" width="12" height="12"/></svg><span class="l" style="width:4px;transform:scaleX(1.028)">&nbsp;</span><svg class="k" width="36" height="12" viewBox="0 0 36 12" role="img"><title>충진량</title><use href="#ucda9" x="0" width="12" height="12"/><use href="#uc9c4" x="12" width="12" height="12"/><use href="#ub7c9" x="24" width="12" height="12"/></svg><span class="l" style="width:74px;transform:scaleX(0.982)">/Lubricant(ℓ)</span></td><td colspan="2" style="padding-left:65px;padding-top:3px"><span class="l" style="width:7px;transform:scaleX(0.898)">5</span></td><td colspan="2" style="padding-left:67px;padding-top:3px"><span class="l" style="width:7px;transform:scaleX(0.898)">7</span></td><td style="padding-left:37px;padding-top:3px"><span class="l" style="width:7px;transform:scaleX(0.898)">8</span></td><td class="x" style="padding-left:40px;padding-top:5px"><span style="letter-spacing:0.42px">16</span></td></tr>
<tr class="w" style="height:48px"><td colspan="2" style="padding-left:0px;text-indent:6px;padding-top:3px;line-height:19px"><svg class="k" width="48" height="12" viewBox="0 0 48 12" role="img"><title>토출관경</title><use href="#ud1a0" x="0" width="12" height="12"/><use href="#ucd9c" x="12" width="12" height="12"/><use href="#uad00" x="24" width="12" height="12"/><use href="#uacbd" x="36" width="12" height="12"/></svg><span class="l" style="width:91px;transform:scaleX(0.921)">/Discharge Pipe</span><br><span class="l" style="width:51px;transform:scaleX(0.898)">Diameter</span></td><td style="padding-left:13px;text-indent:16px;padding-top:3px;line-height:19px"><span class="l" style="width:24px;transform:scaleX(0.982)">3/4"</span><br><span class="l" style="width:32px;transform:scaleX(0.935)">(20A)</span></td><td style="padding-left:11px;text-indent:16px;padding-top:3px;line-height:19px"><span class="l" style="width:24px;transform:scaleX(0.982)">3/4"</span><br><span class="l" style="width:32px;transform:scaleX(0.935)">(20A)</span></td><td style="padding-left:19px;padding-top:15px"><span class="l" style="width:44px;transform:scaleX(0.936)">1"(25A)</span></td><td style="padding-left:22px;padding-top:15px"><span class="l" style="width:44px;transform:scaleX(0.936)">1"(25A)</span></td><td style="padding-left:26px;padding-top:15px"><span class="l" style="width:44px;transform:scaleX(0.936)">1"(25A)</span></td><td class="x" style="padding-left:28px;padding-top:18px"><span style="letter-spacing:-0.23px">1"(25A)</span></td></tr>
<tr class="g" style="height:24px"><td colspan="2" style="padding-left:18px;padding-top:3px"><svg class="k" width="24" height="12" viewBox="0 0 24 12" role="img"><title>출력</title><use href="#ucd9c" x="0" width="12" height="12"/><use href="#ub825" x="12" width="12" height="12"/></svg><span class="l" style="width:67px;transform:scaleX(0.888)">(kW)/Output</span></td><td style="padding-left:35px;padding-top:3px"><span class="l" style="width:7px;transform:scaleX(0.898)">4</span></td><td style="padding-left:23px;padding-top:3px"><span class="l" style="width:18px;transform:scaleX(0.925)">5.5</span></td><td style="padding-left:24px;padding-top:3px"><span class="l" style="width:18px;transform:scaleX(0.925)">7.5</span></td><td style="padding-left:29px;padding-top:3px"><span class="l" style="width:14px;transform:scaleX(0.962)">11</span></td><td style="padding-left:34px;padding-top:3px"><span class="l" style="width:14px;transform:scaleX(0.899)">15</span></td><td class="x" style="padding-left:40px;padding-top:6px"><span style="letter-spacing:-0.08px">22</span></td></tr>
<tr class="w" style="height:24px"><td colspan="2" style="padding-left:17px;padding-top:3px"><svg class="k" width="24" height="12" viewBox="0 0 24 12" role="img"><title>전압</title><use href="#uc804" x="0" width="12" height="12"/><use href="#uc555" x="12" width="12" height="12"/></svg><span class="l" style="width:64px;transform:scaleX(0.924)">(V)/Voltage</span></td><td colspan="6" style="padding-left:191px;padding-top:3px"><span class="l" style="width:87px;transform:scaleX(0.931)">220 / 380 / 440</span></td></tr>
<tr class="g" style="height:24px"><td colspan="2" style="padding-left:18px;padding-top:3px"><svg class="k" width="36" height="12" viewBox="0 0 36 12" role="img"><title>주파수</title><use href="#uc8fc" x="0" width="12" height="12"/><use href="#ud30c" x="12" width="12" height="12"/><use href="#uc218" x="24" width="12" height="12"/></svg><span class="l" style="width:87px;transform:scaleX(0.902)">(Hz)/Frequency</span></td><td colspan="6" style="padding-left:215px;padding-top:3px"><span class="l" style="width:41px;transform:scaleX(0.957)">50 / 60</span></td></tr>
<tr class="w" style="height:24px"><td colspan="2" style="padding-left:18px;padding-top:3px"><svg class="k" width="48" height="12" viewBox="0 0 48 12" role="img"><title>기동방식</title><use href="#uae30" x="0" width="12" height="12"/><use href="#ub3d9" x="12" width="12" height="12"/><use href="#ubc29" x="24" width="12" height="12"/><use href="#uc2dd" x="36" width="12" height="12"/></svg><span class="l" style="width:94px;transform:scaleX(0.915)">/Starting System</span></td><td colspan="5" style="padding-left:141px;padding-top:3px"><span class="l" style="width:80px;transform:scaleX(0.894)">Direct On Line</span></td><td class="x" style="padding-left:17px;padding-top:6px"><span style="letter-spacing:0.02px">Star-Delta</span></td></tr>
<tr class="g" style="height:24px"><td colspan="2" style="padding-left:0px;padding-top:3px"><svg class="k" width="24" height="12" viewBox="0 0 24 12" role="img"><title>크기</title><use href="#ud06c" x="0" width="12" height="12"/><use href="#uae30" x="12" width="12" height="12"/></svg><span class="l" style="width:83px;transform:scaleX(0.970)">/Dimensions (</span><svg class="k" width="24" height="12" viewBox="0 0 24 12" role="img"><title>전장</title><use href="#uc804" x="0" width="12" height="12"/><use href="#uc7a5" x="12" width="12" height="12"/></svg><span class="l" style="width:6px;transform:scaleX(0.857)">x</span><svg class="k" width="24" height="12" viewBox="0 0 24 12" role="img"><title>전폭</title><use href="#uc804" x="0" width="12" height="12"/><use href="#ud3ed" x="12" width="12" height="12"/></svg><span class="l" style="width:6px;transform:scaleX(0.857)">x</span><svg class="k" width="24" height="12" viewBox="0 0 24 12" role="img"><title>전고</title><use href="#uc804" x="0" width="12" height="12"/><use href="#uace0" x="12" width="12" height="12"/></svg><span class="l" style="width:5px;transform:scaleX(1.070)">)</span></td><td colspan="2" style="padding-left:31px;padding-top:3px"><span class="l" style="width:74px;transform:scaleX(0.880)">700x550x950</span></td><td colspan="2" style="padding-left:30px;padding-top:3px"><span class="l" style="width:81px;transform:scaleX(0.892)">820x700x1170</span></td><td style="padding-left:0px;padding-top:3px"><span class="l" style="width:81px;transform:scaleX(0.882)">820x750x1270</span></td><td class="x" style="padding-left:1px;padding-top:6px"><span style="letter-spacing:-0.06px">800x1250x1250</span></td></tr>
<tr class="w" style="height:24px"><td colspan="2" style="padding-left:52px;padding-top:3px"><svg class="k" width="24" height="12" viewBox="0 0 24 12" role="img"><title>중량</title><use href="#uc911" x="0" width="12" height="12"/><use href="#ub7c9" x="12" width="12" height="12"/></svg><span class="l" style="width:65px;transform:scaleX(0.911)">(kg)/Weight</span></td><td style="padding-left:24px;padding-top:3px"><span class="l" style="width:21px;transform:scaleX(0.899)">130</span></td><td style="padding-left:21px;padding-top:3px"><span class="l" style="width:21px;transform:scaleX(0.899)">135</span></td><td style="padding-left:23px;padding-top:3px"><span class="l" style="width:21px;transform:scaleX(0.899)">150</span></td><td style="padding-left:24px;padding-top:3px"><span class="l" style="width:21px;transform:scaleX(0.899)">160</span></td><td style="padding-left:30px;padding-top:3px"><span class="l" style="width:21px;transform:scaleX(0.899)">250</span></td><td class="x" style="padding-left:36px;padding-top:6px"><span style="letter-spacing:-0.23px">320</span></td></tr>
</table>
</body></html>
